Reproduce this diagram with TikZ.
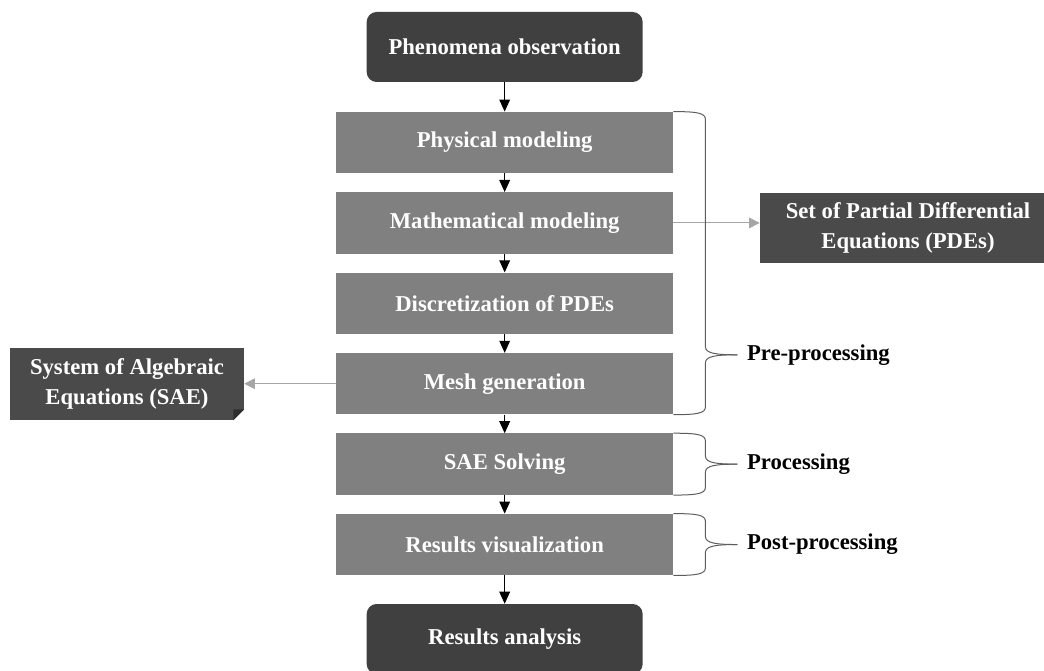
\documentclass[tikz,border=0pt]{standalone}
\usepackage{fontspec}
\setmainfont{Liberation Serif}
\usetikzlibrary{shapes,arrows.meta}
\definecolor{dk}{HTML}{404040}
\definecolor{sd}{HTML}{4A4A4A}
\definecolor{fd}{HTML}{2E2E2E}
\definecolor{md}{HTML}{808080}
\definecolor{ln}{HTML}{A6A6A6}
\tikzstyle{r} = [rectangle, minimum width=252.75pt, minimum height=46pt, text centered, fill=md, text=white, font=\bfseries\fontsize{17}{22}\selectfont]
\tikzstyle{dr} = [r, rounded corners=7.5pt, minimum width=207pt, minimum height=52.5pt, fill=dk]
\tikzstyle{sr} = [r, align=center, fill=sd, minimum height=52.5pt]
\tikzstyle{lab} = [anchor=west, inner sep=0pt, font=\bfseries\fontsize{17}{22}\selectfont]
\tikzstyle{ar} = [-{Triangle[length=9pt,width=8pt]}, line width=0.75pt]
\tikzstyle{gar} = [-{Triangle[length=8pt,width=8pt]}, draw=ln, fill=ln, line width=0.75pt]
\tikzstyle{br} = [draw=dk!85, line width=0.75pt]
\newcommand{\brc}[3]{%
  \draw[br] (#1) .. controls +(18pt,0) and +(0,5pt) .. ([xshift=24pt,yshift=-6pt]#1)
    -- ([xshift=24pt,yshift=6pt]#3) .. controls +(0,-5pt) and +(-16pt,0) .. ([xshift=48pt]#3);
  \draw[br] ([xshift=48pt]#3) .. controls +(-16pt,0) and +(0,5pt) .. ([xshift=24pt,yshift=-6pt]#3)
    -- ([xshift=24pt,yshift=6pt]#2) .. controls +(0,-5pt) and +(18pt,0) .. (#2);}

\begin{document}
\begin{tikzpicture}[node distance=60.3pt]
		\useasboundingbox (0,0) rectangle (783pt,-502.5pt);
		\node[dr](1) at (378.5pt,-35.25pt){Phenomena observation};
		\node[r,below of=1,yshift=-11.35pt](2){Physical modeling};
		\node[r,below of=2](3){Mathematical modeling};
		\node[r,below of=3](4){Discretization of PDEs};
		\node[r,below of=4](5){Mesh generation};
		\node[r,below of=5](6){SAE Solving};
		\node[r,below of=6](7){Results visualization};
		\node[dr,below of=7,yshift=-10.55pt](8){Results analysis};
		
		\node[sr,minimum width=222pt](9) at (681pt,-171pt){Set of Partial Differential\\Equations (PDEs)};
		\node[sr,minimum width=175.5pt,minimum height=54pt](10) at (95.25pt,-288pt){System of Algebraic\\Equations (SAE)};
		\fill[white] ([xshift=-8.25pt]10.south east) -- (10.south east) -- ([yshift=8.25pt]10.south east) -- cycle;
		\fill[fd] ([xshift=-8.25pt]10.south east) -- ([yshift=8.25pt]10.south east) -- ([xshift=-8.25pt,yshift=8.25pt]10.south east) -- cycle;
		
		\draw[ar] (1)--(2);
		\draw[ar] (2)--(3);
		\draw[ar] (3)--(4);
		\draw[ar] (4)--(5);
		\draw[ar] (5)--(6);
		\draw[ar] (6)--(7);
		\draw[ar] (7)--(8);
		\draw[gar] (3.east)--(3.east -| 9.west);
		\draw[gar] (5.west)--(5.west -| 10.east);
		
		\coordinate (c1) at ([yshift=-1.5pt]5.north east);
		\coordinate (c2) at (6.east);
		\coordinate (c3) at (7.east);
		\brc{2.north east}{5.south east}{c1}
		\brc{6.north east}{6.south east}{c2}
		\brc{7.north east}{7.south east}{c3}
		\node[lab](11) at ([xshift=55pt]c1){Pre-processing};
		\node[lab](12) at ([xshift=55pt]c2){Processing};
		\node[lab](13) at ([xshift=55pt]c3){Post-processing};
		\end{tikzpicture}
\end{document}
